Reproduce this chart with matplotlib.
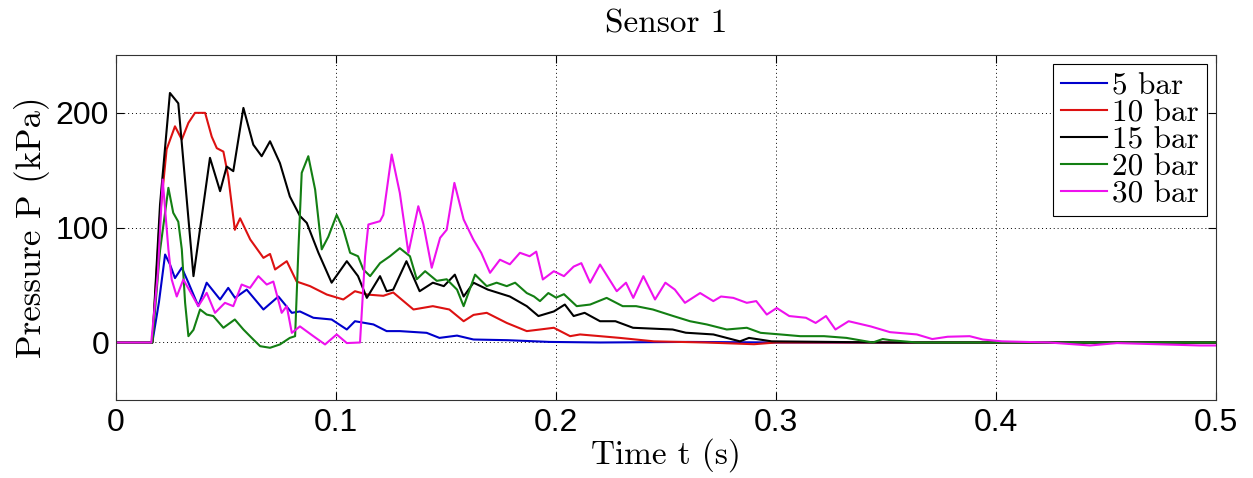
import matplotlib
matplotlib.use("Agg")
import matplotlib.pyplot as plt

# Pressure traces at sensor 1 for different driver pressures (t in s, P in kPa)
t_5 = [0, 0.0165, 0.0195, 0.0223, 0.0245, 0.0268, 0.0299, 0.0329, 0.0374, 0.0412, 0.0473, 0.051,
       0.0541, 0.0594, 0.067, 0.0738, 0.0799, 0.0836, 0.0897, 0.098, 0.1049, 0.1086, 0.117, 0.123,
       0.129, 0.1412, 0.147, 0.155, 0.1625, 0.178, 0.197, 0.22, 0.26, 0.3, 0.4, 0.5]
p_5 = [0, 0, 35, 76.5, 68, 56, 65, 52, 31.6, 52, 37.4, 47.5,
       38.8, 46, 28.7, 40, 25.8, 27, 21.5, 20, 11.3, 18.5, 15.7, 9.9,
       9.9, 8.4, 4, 6, 2.6, 2, 0.5, 0, 0.5, 0, 0, 0]

t_10 = [0, 0.0165, 0.0200, 0.023, 0.0268, 0.0299, 0.0329, 0.0359, 0.0405, 0.0435, 0.0458, 0.0488,
        0.051, 0.054, 0.0564, 0.061, 0.067, 0.070, 0.0723, 0.0776, 0.0821, 0.0882, 0.0958, 0.1033,
        0.1086, 0.1142, 0.1215, 0.126, 0.1352, 0.144, 0.1515, 0.158, 0.1625, 0.1685, 0.1776, 0.1867,
        0.1927, 0.199, 0.2064, 0.2109, 0.22, 0.229, 0.2445, 0.268, 0.29, 0.3, 0.4, 0.5]
p_10 = [0, 0, 110, 168, 188, 176.5, 191, 199.7, 199.7, 179, 169, 166,
        144.6, 98, 108, 89.6, 73.6, 77, 63.5, 70.7, 53, 49, 41.7, 37.4,
        44.6, 41.7, 40.6, 43.5, 28.7, 31.6, 28.7, 18.5, 24, 25.8, 17, 9.9,
        11.3, 12.8, 5.5, 7, 5.5, 4, 1, 0, -1.5, 0, 0, 0]

t_15 = [0, 0.0165, 0.0200, 0.0245, 0.0283, 0.0352, 0.0427, 0.0473, 0.0503, 0.0533, 0.0579, 0.0624,
        0.0662, 0.070, 0.0745, 0.079, 0.0836, 0.0867, 0.092, 0.098, 0.1049, 0.110, 0.114, 0.12,
        0.123, 0.126, 0.132, 0.138, 0.144, 0.149, 0.154, 0.158, 0.1625, 0.169, 0.179, 0.1867,
        0.192, 0.199, 0.204, 0.208, 0.213, 0.22, 0.227, 0.235, 0.253, 0.259, 0.2715, 0.2836,
        0.2877, 0.298, 0.35, 0.5]
p_15 = [0, 0, 120, 217, 208, 57.7, 160.6, 131.6, 153, 149, 204, 172,
        162, 175, 156, 127, 110, 104, 78, 52, 70.7, 57.7, 38.8, 57.7,
        44.6, 46, 70.7, 44.6, 52, 49, 59, 40, 52, 46, 40, 31.6,
        23, 27, 33, 23, 25.8, 18.5, 18.5, 12.8, 11.3, 8.5, 7, 1,
        4, 1, 0, 0]

t_20 = [0, 0.0165, 0.0200, 0.0238, 0.026, 0.0283, 0.0299, 0.0314, 0.0329, 0.0352, 0.0382, 0.0412,
        0.0442, 0.0488, 0.054, 0.0579, 0.0624, 0.0655, 0.07, 0.0745, 0.079, 0.0814, 0.0829, 0.0844,
        0.0874, 0.0905, 0.0935, 0.0965, 0.1003, 0.1033, 0.1064, 0.11, 0.1124, 0.1155, 0.12, 0.1245,
        0.129, 0.1336, 0.1367, 0.1405, 0.1458, 0.1503, 0.155, 0.158, 0.1632, 0.1685, 0.173, 0.1776,
        0.1814, 0.1867, 0.19, 0.1927, 0.1965, 0.2, 0.2036, 0.2094, 0.2155, 0.223, 0.2303, 0.2364,
        0.244, 0.2533, 0.2609, 0.2685, 0.2776, 0.2867, 0.293, 0.302, 0.311, 0.3218, 0.332, 0.344,
        0.3485, 0.352, 0.364, 0.5]
p_20 = [0, 0, 80, 134.5, 112.8, 105, 81, 34.5, 5.5, 11, 28.7, 24.3,
        23, 12.8, 20, 11.3, 2.6, -3.2, -4.6, -1.7, 4, 5.5, 81, 147.5,
        162, 133, 81, 92, 111, 98.6, 78, 75, 63.5, 57.7, 69, 75,
        82, 75, 55, 62, 53.6, 55, 46, 31.6, 59, 49, 52, 49,
        52, 43, 40, 36, 43, 39, 42, 31.6, 33, 38.8, 31.6, 31.6,
        28.7, 23, 18.5, 15.7, 11.3, 12.8, 8.4, 7, 5.5, 5.5, 4, 0,
        3, 2, 0, 0]

t_30 = [0, 0.0160, 0.0190, 0.0212, 0.0238, 0.0253, 0.0276, 0.0306, 0.0336, 0.0374, 0.0412, 0.045,
        0.0495, 0.0533, 0.0571, 0.0609, 0.0647, 0.0685, 0.0715, 0.0753, 0.0776, 0.0799, 0.0836, 0.0897,
        0.095, 0.1003, 0.1049, 0.1109, 0.1132, 0.1147, 0.12, 0.1215, 0.1253, 0.129, 0.1329, 0.1374,
        0.1397, 0.1435, 0.1473, 0.1503, 0.1538, 0.158, 0.1624, 0.166, 0.17, 0.1745, 0.179, 0.1836,
        0.188, 0.191, 0.194, 0.199, 0.2036, 0.208, 0.2115, 0.2155, 0.22, 0.2276, 0.2318, 0.2351,
        0.2397, 0.245, 0.2497, 0.254, 0.2586, 0.2655, 0.2715, 0.275, 0.2806, 0.2867, 0.291, 0.2958,
        0.3003, 0.306, 0.3136, 0.318, 0.3227, 0.327, 0.333, 0.343, 0.3518, 0.364, 0.371, 0.378,
        0.388, 0.394, 0.4027, 0.424, 0.4427, 0.455, 0.4927, 0.5]
p_30 = [0, 0, 60, 141.7, 81, 54.8, 40, 54.8, 44.6, 31.6, 43.2, 25.8,
        34.5, 31.6, 50.4, 47.5, 57.7, 50.4, 53, 25.8, 31.6, 8.4, 14, 5.5,
        -1.7, 7, -0.5, 0, 75, 102.6, 105.5, 111, 163.5, 130, 78, 118.5,
        103, 65, 91, 98, 138.8, 107, 89.6, 78, 60.6, 72, 68, 78,
        75, 79, 54.8, 62, 57.7, 66, 69, 52, 67.8, 44.6, 52, 38.8,
        57.7, 37.4, 52, 46, 34.5, 43, 36, 40, 38.8, 34.5, 36, 24.3,
        30, 23, 21.5, 17, 23, 11.3, 18.5, 14, 9, 7, 3, 5,
        5.5, 2.6, 1, 0, -2.6, -0.5, -2.6, -2.6]

labels = ["5 bar", "10 bar", "15 bar", "20 bar", "30 bar"]
colors = ["#0000cc", "#dd1111", "#000000", "#137f13", "#ee11ee"]
series = [(t_5, p_5), (t_10, p_10), (t_15, p_15), (t_20, p_20), (t_30, p_30)]

x_ticks = [0, 0.1, 0.2, 0.3, 0.4, 0.5]
x_tick_labels = ["0", "0.1", "0.2", "0.3", "0.4", "0.5"]
y_ticks = [0, 100, 200]
y_tick_labels = ["0", "100", "200"]

serif = "cmr10"
sans = "Liberation Sans"

fig = plt.figure(figsize=(12.53, 4.78), dpi=100)
ax = fig.add_axes([0.0926, 0.1632, 0.8779, 0.7217])

for (t, p), lab, c in zip(series, labels, colors):
    ax.plot(t, p, color=c, lw=1.5, label=lab)

ax.set_xlim(0, 0.5)
ax.set_ylim(-50, 250)
ax.set_xticks(x_ticks)
ax.set_xticklabels(x_tick_labels, fontfamily=sans, fontsize=23)
ax.set_yticks(y_ticks)
ax.set_yticklabels(y_tick_labels, fontfamily=sans, fontsize=23)
ax.tick_params(direction="in", top=True, right=True, length=6, width=0.8)
ax.tick_params(axis="x", pad=6)
ax.tick_params(axis="y", pad=5)
ax.grid(True, linestyle=(0, (1, 3)), color="black", lw=0.7)
for sp in ax.spines.values():
    sp.set_linewidth(0.8)
    sp.set_color("#333333")

ax.set_title("Sensor 1", fontfamily=serif, fontsize=24, pad=16)
ax.set_xlabel("Time t (s)", fontfamily=serif, fontsize=24, labelpad=0)
ax.set_ylabel("Pressure P (kPa)", fontfamily=serif, fontsize=25, labelpad=4)

leg = ax.legend(loc="upper right", prop={"family": serif, "size": 22.5},
                fancybox=False, framealpha=1, edgecolor="black",
                handlelength=1.5, handletextpad=0.15, labelspacing=-0.03,
                borderpad=0.25, borderaxespad=0.3)
leg.get_frame().set_linewidth(0.8)

fig.savefig("out.png", dpi=100)
